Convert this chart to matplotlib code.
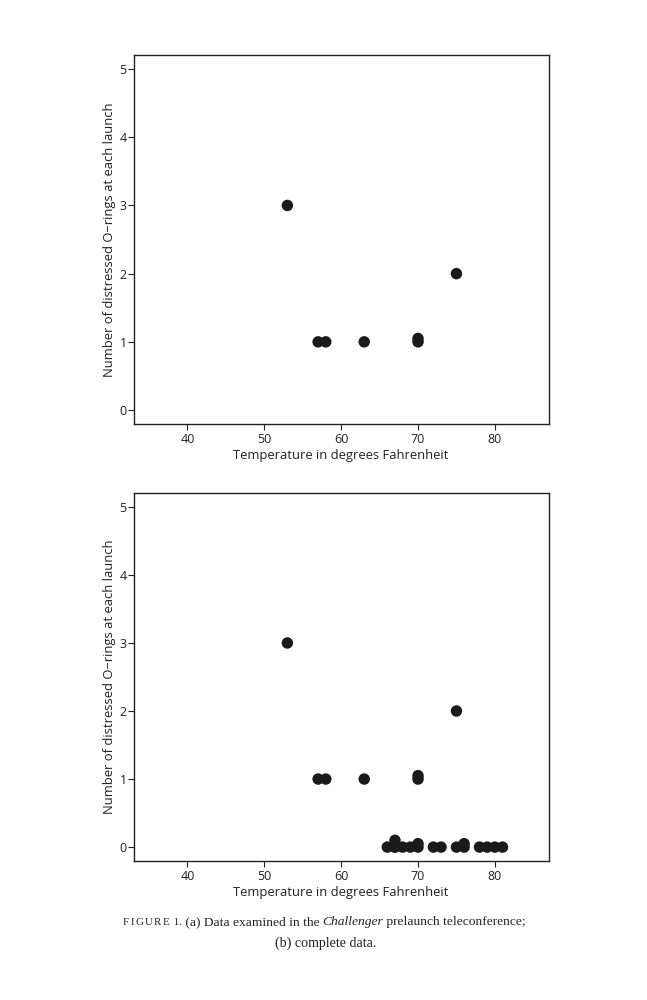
import matplotlib
matplotlib.use("Agg")
import matplotlib.pyplot as plt
from matplotlib.transforms import offset_copy

plt.rcParams['font.family'] = ['Open Sans', 'DejaVu Sans']

# (a) flights with at least one distressed O-ring (small vertical jitter on ties)
temps_a = [53, 57, 58, 63, 70, 70, 75]
damage_a = [3, 1, 1, 1, 1, 1.05, 2]

# (b) the remaining flights with no distress
temps_zero = [66, 67, 67, 67, 68, 69, 70, 70, 72, 73, 75, 76, 76, 78, 79, 80, 81]
damage_zero = [0, 0, 0.1, 0, 0, 0, 0, 0.05, 0, 0, 0, 0, 0.05, 0, 0, 0, 0]

temps_b = temps_a + temps_zero
damage_b = damage_a + damage_zero

x_ticks = [40, 50, 60, 70, 80]
y_ticks = [0, 1, 2, 3, 4, 5]
xlabel = "Temperature in degrees Fahrenheit"
ylabel = "Number of distressed O\u2212rings at each launch"


def draw_panel(ax, x, y):
    ax.scatter(x, y, s=68, color='#1a1a1a', edgecolors='none', zorder=3)
    ax.set_xlim(33, 87)
    ax.set_ylim(-0.2, 5.2)
    ax.set_xticks(x_ticks)
    ax.set_yticks(y_ticks)
    ax.tick_params(labelsize=9, length=4, width=0.8, colors='#222222', pad=3)
    ax.tick_params(axis='y', pad=1)
    ax.set_xlabel(xlabel, fontsize=9.4, color='#222222', labelpad=2)
    ax.set_ylabel(ylabel, fontsize=9.4, color='#222222', labelpad=2.5)
    for side in ax.spines.values():
        side.set_linewidth(1.0)
        side.set_color('#222222')


fig = plt.figure(figsize=(6.47, 10), dpi=100)
ax_a = fig.add_axes([0.2066, 0.5763, 0.6414, 0.3683])
ax_b = fig.add_axes([0.2066, 0.1393, 0.6414, 0.3674])

draw_panel(ax_a, temps_a, damage_a)
draw_panel(ax_b, temps_b, damage_b)

# caption: pieces laid out one after another, small caps letter-spaced
serif = ['Liberation Serif', 'DejaVu Serif']
pieces = [("F", 7.8, 'normal', 1.4), ("I", 7.8, 'normal', 1.4),
          ("G", 7.8, 'normal', 1.4), ("U", 7.8, 'normal', 1.4),
          ("R", 7.8, 'normal', 1.4), ("E", 7.8, 'normal', 1.4),
          (" 1.", 7.8, 'normal', 0), (" (a) Data examined in the ", 9.7, 'normal', 0),
          ("Challenger", 9.7, 'italic', 0), (" prelaunch teleconference;", 9.7, 'normal', 0)]
renderer = fig.canvas.get_renderer()
trans = fig.transFigure
for txt, size, style, track in pieces:
    t = fig.text(123 / 647, 0.075, txt, fontsize=size, family=serif, style=style,
                 ha='left', va='baseline', transform=trans, color='#222222')
    w = t.get_window_extent(renderer).width + track
    trans = offset_copy(trans, fig=fig, x=w, y=0, units='dots')
fig.text(325.5 / 647, 0.0535, "(b) complete data.", fontsize=10.1, family=serif,
         ha='center', va='baseline', color='#222222')

fig.savefig("out.png", dpi=100)
